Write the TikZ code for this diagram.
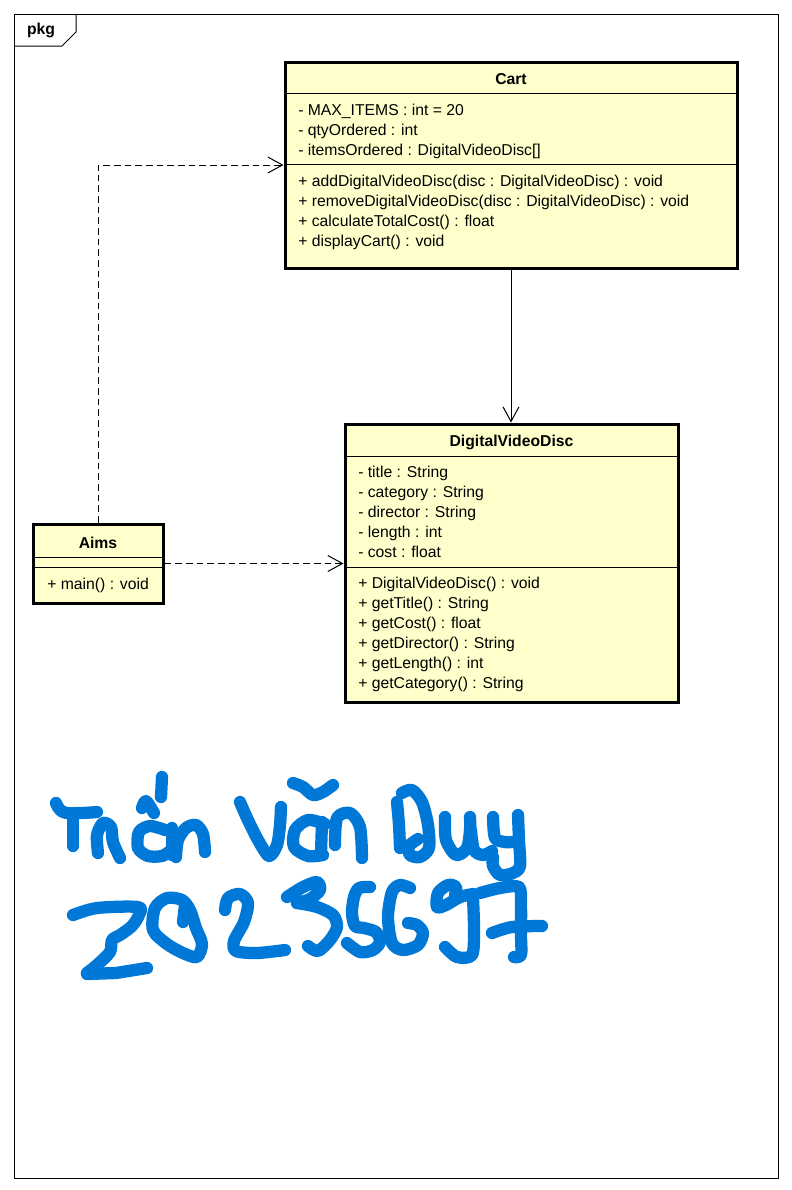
\documentclass[tikz,border=0pt]{standalone}
\usepackage{fontspec}
\setmainfont{Liberation Sans}
\usetikzlibrary{arrows.meta,fit}
\definecolor{classfill}{HTML}{FFFFCC}
\definecolor{ink}{HTML}{0078D7}
\begin{document}
\begin{tikzpicture}[x=0.75pt,y=-0.75pt,
  classbox/.style={draw, line width=2.25pt, fill=classfill, inner sep=0pt},
  sep/.style={line width=0.75pt},
  txt/.style={anchor=base west, inner sep=0pt, font=\fontsize{11.8pt}{14pt}\selectfont},
  ttl/.style={anchor=base, inner sep=0pt, font=\fontsize{11.8pt}{14pt}\selectfont\bfseries},
  dep/.style={line width=0.75pt, dash pattern=on 5pt off 3pt, -{Straight Barb[length=11pt,width=12pt]}},
  assoc/.style={line width=0.75pt, -{Straight Barb[length=11pt,width=12pt]}},
  hand/.style={ink, line width=9.2pt, line cap=round, line join=round}]
\useasboundingbox (0,0) rectangle (792,1190);
\fill[white] (0,0) rectangle (792,1190);
% frame
\draw[line width=0.75pt] (14,14) rectangle (778,1178);
\draw[line width=0.75pt] (14,46) -- (62,46) -- (76,32) -- (76,14);
\node[ttl] (pkg) at (41,34) {pkg};

% Cart
\node[classbox, fit={(285,62) (737,268)}] (cart) {};
\draw[sep] (285,93) -- (737,93);
\draw[sep] (285,164) -- (737,164);
\node[ttl] (cartname) at (511,84) {Cart};
\foreach \t [count=\i] in {{- MAX\_ITEMS : int = 20},{- qtyOrdered : int},{- itemsOrdered : DigitalVideoDisc[]}}
  \node[txt] (carta\i) at (298,95+20*\i) {\t};
\foreach \t [count=\i] in {{+ addDigitalVideoDisc(disc : DigitalVideoDisc) : void},{+ removeDigitalVideoDisc(disc : DigitalVideoDisc) : void},{+ calculateTotalCost() : float},{+ displayCart() : void}}
  \node[txt] (cartm\i) at (298,166+20*\i) {\t};

% DigitalVideoDisc
\node[classbox, fit={(345,424) (678,702)}] (dvd) {};
\draw[sep] (345,456) -- (678,456);
\draw[sep] (345,567) -- (678,567);
\node[ttl] (dvdname) at (511.5,446) {DigitalVideoDisc};
\foreach \t [count=\i] in {{- title : String},{- category : String},{- director : String},{- length : int},{- cost : float}}
  \node[txt] (dvda\i) at (358,457+20*\i) {\t};
\foreach \t [count=\i] in {{+ DigitalVideoDisc() : void},{+ getTitle() : String},{+ getCost() : float},{+ getDirector() : String},{+ getLength() : int},{+ getCategory() : String}}
  \node[txt] (dvdm\i) at (358,568+20*\i) {\t};

% Aims
\node[classbox, fit={(33,524) (163,603)}] (aims) {};
\draw[sep] (33,557) -- (163,557);
\draw[sep] (33,567) -- (163,567);
\node[ttl] (aimsname) at (98,548) {Aims};
\node[txt] (aimsm1) at (47,589) {+ main() : void};

% connectors
\draw[assoc] (cart.south) -- (cart.south |- dvd.north);
\draw[dep] (aims.north) |- (cart.west);
\draw[dep] (aims.east) -- (aims.east -| dvd.west);

% handwriting: Tran Van Duy
\draw[hand] plot[smooth, tension=0.7] coordinates {(56,803) (63,812) (80,813) (97,812)};
\draw[hand] (73,820) -- (73,846);
\draw[hand] plot[smooth] coordinates {(98,853) (97,835) (103,823) (111,827) (113,842) (120,858)};
\draw[hand] (162,777) -- (161,797);
\draw[hand] plot[smooth] coordinates {(142,808) (146,801) (154,813)};
\draw[hand] plot[smooth] coordinates {(165,830) (150,826) (139,832) (138,848) (148,856) (162,856) (170,851)};
\draw[hand] (172,828) -- (172,855);
\draw[hand] plot[smooth] coordinates {(176,857) (178,840) (186,828) (196,825) (203,834) (205,852)};
\draw[hand] plot[smooth] coordinates {(240,802) (247,818) (258,840) (269,856) (277,845) (280,825) (281,807)};
\draw[hand] plot[smooth] coordinates {(293,783) (303,787) (313,795) (323,792) (333,785)};
\draw[hand] plot[smooth] coordinates {(325,824) (308,820) (295,830) (294,847) (308,856) (323,855)};
\draw[hand] (322,822) -- (321,853);
\draw[hand] plot[smooth] coordinates {(335,845) (337,818) (350,813) (360,827) (362,858)};
\draw[hand] plot[smooth] coordinates {(397,802) (399,825) (400,848)};
\draw[hand] plot[smooth] coordinates {(402,793) (412,790) (422,802) (428,825) (429,848) (420,857) (410,855) (409,846) (418,839)};
\draw[hand] plot[smooth] coordinates {(445,817) (446,840) (456,855) (467,848) (470,830) (470,817)};
\draw[hand] plot[smooth] coordinates {(471,830) (474,850) (483,855) (492,851)};
\draw[hand] plot[smooth] coordinates {(493,817) (495,838) (505,842) (512,842)};
\draw[hand] plot[smooth] coordinates {(518,815) (519,840) (520,866) (513,873) (500,875) (493,866) (493,857)};

% handwriting: 20235697
\draw[hand] plot[smooth] coordinates {(73,915) (97,908) (138,907) (139,915) (132,926) (120,935) (112,940) (110,952) (97,965) (87,973)};
\draw[hand] (87,974) -- (116,973) -- (147,968);
\draw[hand] plot[smooth cycle] coordinates {(153,930) (155,908) (167,898) (182,900) (190,910) (196,928) (202,944) (197,957) (183,953) (167,944)};
\draw[hand] (183,922) -- (185,905);
\draw[hand] plot[smooth] coordinates {(225,910) (228,898) (240,894) (248,903) (244,922) (234,941) (236,951) (257,953) (285,950)};
\draw[hand] plot[smooth] coordinates {(287,897) (303,887) (317,882) (320,890) (310,899) (297,903)};
\draw[hand] plot[smooth] coordinates {(297,903) (317,907) (333,915) (337,927) (330,940) (318,951) (308,946)};
\draw[hand] plot[smooth] coordinates {(370,887) (359,888) (354,897) (352,913) (355,926) (364,928) (376,932) (380,942) (373,950) (360,952) (347,943)};
\draw[hand] plot[smooth] coordinates {(410,888) (400,885) (392,892) (388,917) (392,943) (403,950) (418,945) (423,933) (417,925) (408,923)};
\draw[hand] plot[smooth] coordinates {(455,895) (456,887) (448,885) (438,893) (437,907) (446,905) (460,897) (473,894)};
\draw[hand] plot[smooth] coordinates {(473,898) (474,930) (472,955) (457,957) (445,947)};
\draw[hand] plot[smooth] coordinates {(480,893) (500,888) (519,887) (521,905) (521,935) (521,955) (514,957)};
\draw[hand] plot[smooth] coordinates {(492,933) (512,927) (542,926)};
\end{tikzpicture}
\end{document}
